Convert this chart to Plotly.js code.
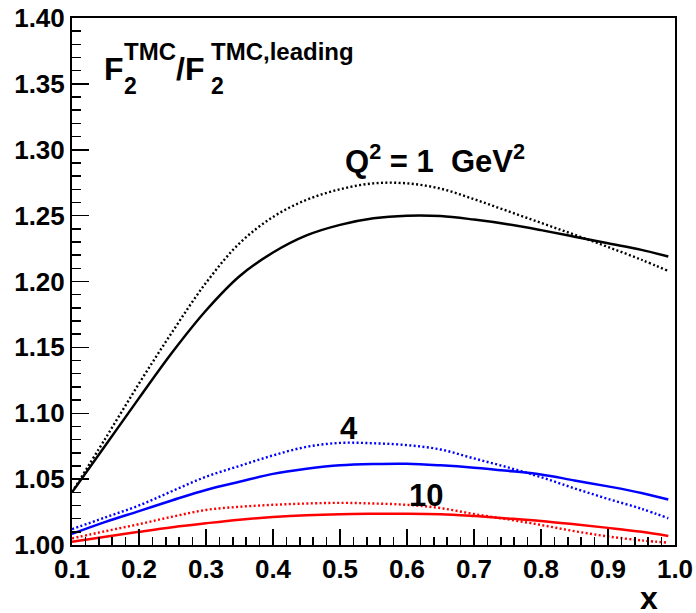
<!DOCTYPE html>
<html>
<head>
<meta charset="utf-8">
<script src="https://cdn.plot.ly/plotly-3.0.1.min.js"></script>
<style>html,body{margin:0;padding:0;background:#fff;}#chart{width:696px;height:613px;}</style>
</head>
<body>
<div id="chart"></div>
<script>
// x grid shared by all curves
const xValues = [0.10,0.15,0.20,0.25,0.30,0.35,0.40,0.45,0.50,0.55,0.60,0.65,0.70,0.75,0.80,0.85,0.90,0.95,0.99];

// Q^2 = 1 GeV^2
const q1Solid  = [1.040,1.0757,1.1115,1.1465,1.178,1.204,1.222,1.235,1.243,1.248,1.250,1.2497,1.247,1.2435,1.239,1.234,1.229,1.224,1.219];
const q1Dotted = [1.040,1.081,1.1225,1.162,1.199,1.229,1.249,1.262,1.270,1.2745,1.2745,1.2705,1.2625,1.2535,1.2445,1.2355,1.2262,1.2165,1.208];
// Q^2 = 4 GeV^2
const q4Solid  = [1.0084,1.0175,1.0257,1.034,1.0418,1.048,1.054,1.0578,1.0605,1.0615,1.0617,1.0605,1.0587,1.0563,1.0535,1.0490,1.0445,1.0395,1.0345];
const q4Dotted = [1.012,1.021,1.030,1.041,1.0518,1.060,1.068,1.0745,1.0775,1.0772,1.0758,1.0725,1.0657,1.0590,1.0515,1.0430,1.0350,1.0275,1.0203];
// Q^2 = 10 GeV^2
const q10Solid  = [1.0025,1.0063,1.0100,1.0135,1.0165,1.0192,1.0212,1.0226,1.0234,1.0237,1.0238,1.0234,1.0220,1.0202,1.0182,1.0157,1.0130,1.0100,1.0068];
const q10Dotted = [1.005,1.0105,1.0158,1.0215,1.0266,1.0290,1.0305,1.0315,1.0320,1.0315,1.0305,1.0280,1.0235,1.0195,1.0152,1.0105,1.0065,1.0035,1.0018];

const xTickVals = [0.1,0.2,0.3,0.4,0.5,0.6,0.7,0.8,0.9,1.0];
const xTickText = ["0.1","0.2","0.3","0.4","0.5","0.6","0.7","0.8","0.9","1.0"];
const yTickVals = [1.00,1.05,1.10,1.15,1.20,1.25,1.30,1.35,1.40];
const yTickText = ["1.00","1.05","1.10","1.15","1.20","1.25","1.30","1.35","1.40"];

function curve(y, color, dotted, name){
  return {x: xValues, y: y, type:'scatter', mode:'lines', name: name,
    line:{color: color, width: dotted ? 2.4 : 2.5, dash: dotted ? '2px,2.4px' : 'solid', shape:'spline', smoothing:1},
    hoverinfo:'skip'};
}
const traces = [
  curve(q1Dotted,'#000000',true,'Q2=1 dotted'),
  curve(q1Solid,'#000000',false,'Q2=1 solid'),
  curve(q4Dotted,'#0000ff',true,'Q2=4 dotted'),
  curve(q4Solid,'#0000ff',false,'Q2=4 solid'),
  curve(q10Dotted,'#ff0000',true,'Q2=10 dotted'),
  curve(q10Solid,'#ff0000',false,'Q2=10 solid')
];

// plot area in pixels: left 72, right 675, top 18, bottom 545
const L=72, R=675, T=18, B=545;
const px = p => (p-L)/(R-L);
const py = p => (B-p)/(B-T);
const FONT = 'Liberation Sans, Arial, Helvetica, sans-serif';
function ann(text, x, y, size, xanchor, yanchor){
  return {text:text, xref:'paper', yref:'paper', x:px(x), y:py(y), xanchor:xanchor||'left', yanchor:yanchor||'bottom',
    showarrow:false, font:{family:FONT, size:size, color:'#000', weight:'bold'}, borderpad:1};
}
const annotations = [
  ann('F', 102, 89.5, 32),
  ann('2', 122, 100.9, 23),
  ann('TMC', 122, 67.5, 24),
  ann('/F', 174, 89.5, 32),
  ann('2', 209, 100.9, 23),
  ann('TMC,leading', 209, 67.5, 24),
  ann('Q<sup>2</sup> = 1&nbsp; GeV<sup>2</sup>', 343, 181, 31),
  ann('4', 348.5, 447.8, 31, 'center'),
  ann('10', 425.5, 514.6, 31, 'center'),
  ann('x', 649, 597.5, 32, 'center', 'middle')
];

const layout = {
  width:696, height:613,
  margin:{l:L, r:696-R, t:T, b:613-B, pad:0},
  paper_bgcolor:'#fff', plot_bgcolor:'#fff',
  showlegend:false,
  font:{family:FONT, color:'#000'},
  xaxis:{range:[0.1,1.0], showgrid:false, zeroline:false,
    showline:true, linecolor:'#000', linewidth:2, mirror:true,
    ticks:'inside', ticklen:16, tickwidth:1.5, tickcolor:'#000',
    tickvals:xTickVals, ticktext:xTickText,
    tickfont:{family:FONT, size:26, color:'#000', weight:'bold'},
    minor:{dtick:0.02, ticks:'inside', ticklen:8, tickwidth:1.5, tickcolor:'#000', showgrid:false}},
  yaxis:{range:[1.0,1.4], showgrid:false, zeroline:false,
    showline:true, linecolor:'#000', linewidth:2, mirror:true,
    ticks:'inside', ticklen:17, tickwidth:1.5, tickcolor:'#000',
    tickvals:yTickVals, ticktext:yTickText,
    tickfont:{family:FONT, size:26, color:'#000', weight:'bold'},
    minor:{dtick:0.01, ticks:'inside', ticklen:9, tickwidth:1.5, tickcolor:'#000', showgrid:false}},
  annotations: annotations
};
Plotly.newPlot('chart', traces, layout, {staticPlot:true, displayModeBar:false});
</script>
</body>
</html>
